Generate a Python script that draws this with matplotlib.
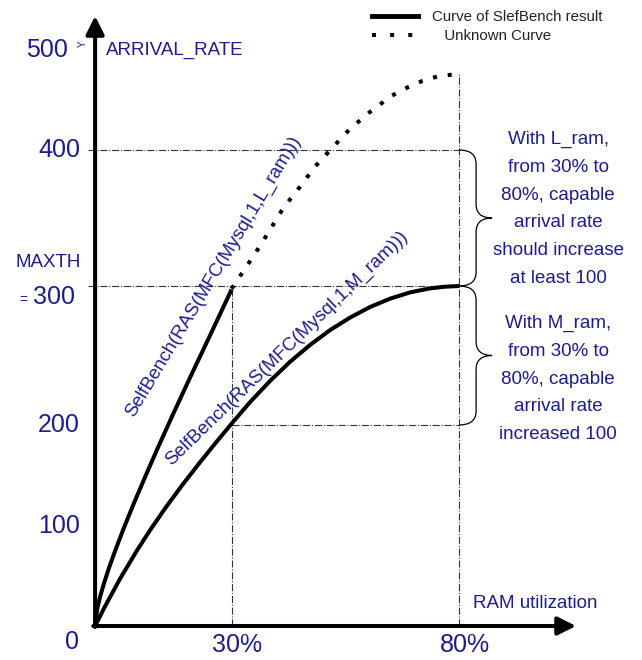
import numpy as np
import matplotlib
matplotlib.use("Agg")
import matplotlib.pyplot as plt
from matplotlib.path import Path
from matplotlib.patches import PathPatch
from matplotlib.lines import Line2D
from matplotlib.transforms import IdentityTransform

plt.rcParams['font.family'] = ['Liberation Sans', 'DejaVu Sans']

NAVY = '#1c1c8c'

# values: RAM utilization (%) vs arrival rate
l_ram_util = [0, 0.44, 1.1, 1.98, 3.08, 4.4, 6.15, 8.35, 10.99, 13.85, 17.14, 20.88, 25.27, 30]
l_ram_rate = [0, 16.6, 29.3, 43.1, 58.4, 75.1, 96.1, 120.6, 148.6, 178, 207.8, 234.2, 264.5, 297.5]
m_ram_util = [0, 2.2, 5.49, 9.23, 12.09, 15.38, 19.12, 23.08, 26.59, 30.11, 34.07, 38.46,
              42.86, 47.25, 51.65, 56.04, 60.44, 64.84, 69.23, 73.63, 76.92, 80]
m_ram_rate = [0, 19.8, 47.3, 75.7, 95.9, 117.4, 140.3, 163.2, 182.8, 201.4, 216.5, 231.7,
              245.5, 257.6, 268.3, 277.3, 284.9, 290.9, 295.4, 298.3, 299.5, 300]
unknown_util = [30, 35.2, 38.2, 41.3, 44.8, 48.4, 52.1, 56.0, 60.4, 65.1, 68.4, 71.9, 75.6, 80]
unknown_rate = [298, 324, 340, 357, 372, 388, 402, 421, 438, 454, 462, 469, 474, 476]

rate_ticks = [100, 200, 400]
util_marks = [30, 80]
util_labels = ["30%", "80%"]
maxth = 300
upper_rate = 400
lower_rate = 200
top_rate = 500

l_label = "SelfBench(RAS(MFC(Mysql,1,L_ram)))"
m_label = "SelfBench(RAS(MFC(Mysql,1,M_ram)))"
l_note = "With L_ram,\nfrom 30% to\n80%, capable\narrival rate\nshould increase\nat least 100"
m_note = "With M_ram,\nfrom 30% to\n80%, capable\narrival rate\nincreased 100"

# the y axis of the sketch is not drawn to a linear scale
SCALE_VALUES = [-100, 0, 100, 200, 300, 400, 500, 700]
SCALE_POS = [-104, 0, 100, 201, 340, 476, 576, 776]


def forward(v):
    return np.interp(v, SCALE_VALUES, SCALE_POS)


def inverse(p):
    return np.interp(p, SCALE_POS, SCALE_VALUES)


def curly_brace(ax, x, y0, y1, width=33, arm=17, r=14, **kw):
    # build the brace in pixels, anchored on data points
    xa, ya = ax.transData.transform((x, y0))
    _, yb = ax.transData.transform((x, y1))
    ya, yb = min(ya, yb), max(ya, yb)
    xm = xa + arm
    ym = (ya + yb) / 2
    verts = [(xa, ya), (xm, ya), (xm, ya + r),
             (xm, ym - r),
             (xm, ym), (xa + width, ym),
             (xm, ym), (xm, ym + r),
             (xm, yb - r),
             (xm, yb), (xa, yb)]
    codes = [Path.MOVETO, Path.CURVE3, Path.CURVE3,
             Path.LINETO,
             Path.CURVE3, Path.CURVE3,
             Path.CURVE3, Path.CURVE3,
             Path.LINETO,
             Path.CURVE3, Path.CURVE3]
    ax.add_patch(PathPatch(Path(verts, codes), fill=False, transform=IdentityTransform(), **kw))


fig = plt.figure(figsize=(6.42, 6.60), dpi=100)
ax = fig.add_axes([0, 0, 1, 1])
ax.set_yscale('function', functions=(forward, inverse))
ax.set_xlim(-20.9, 120.2)
ax.set_ylim(-32.7, 550)
ax.axis('off')

# guide lines
guide = dict(color='#333333', lw=0.8, linestyle='-.', zorder=1)
ax.plot([-1.5, 80], [upper_rate, upper_rate], **guide)
ax.plot([-1.5, 80], [maxth, maxth], **guide)
ax.plot([30, 80], [lower_rate, lower_rate], **guide)
ax.plot([30, 30], [0, maxth], **guide)
ax.plot([80, 80], [0, unknown_rate[-1]], **guide)

# axes with arrow heads
arrow = dict(arrowstyle='-|>,head_length=11,head_width=5.5', mutation_scale=1,
             lw=2.9, color='black', shrinkA=0, shrinkB=0)
ax.annotate('', xy=(0, 534), xytext=(0, -1), arrowprops=arrow)
ax.annotate('', xy=(105.7, 0), xytext=(-0.4, 0), arrowprops=arrow)

# curves
ax.plot(l_ram_util, l_ram_rate, color='black', lw=2.9, solid_capstyle='butt',
        solid_joinstyle='round', zorder=3)
ax.plot(m_ram_util, m_ram_rate, color='black', lw=2.9, solid_capstyle='butt',
        solid_joinstyle='round', zorder=3)
ax.plot(unknown_util, unknown_rate, color='black', lw=2.9, linestyle=(0, (1, 2.7)), zorder=3)

ax.text(25.9, 307, l_label, rotation=59, rotation_mode='anchor', ha='center', va='center',
        fontsize=13.5, color=NAVY)
ax.text(42.2, 255, m_label, rotation=44, rotation_mode='anchor', ha='center', va='center',
        fontsize=13.5, color=NAVY)

# axis text
ax.text(2.4, top_rate, "ARRIVAL_RATE", ha='left', va='center', fontsize=13.5, color=NAVY)
ax.text(83.1, 22.5, "RAM utilization", ha='left', va='center', fontsize=13.5, color=NAVY)
ax.text(-6.0, top_rate, str(top_rate), ha='right', va='center', fontsize=18, color=NAVY)
ax.text(-2.6, 506, "Y", rotation=90, ha='center', va='center', fontsize=7, color=NAVY)
for v in rate_ticks:
    ax.text(-3.3, v, str(v), ha='right', va='center', fontsize=18, color=NAVY)
ax.annotate(str(maxth), (-4.4, maxth), xytext=(0, -8), textcoords='offset points',
            ha='right', va='center', fontsize=18, color=NAVY)
ax.annotate("=", (-15.8, maxth), xytext=(0, -10), textcoords='offset points',
            ha='center', va='center', fontsize=10, color=NAVY)
ax.text(-10.3, 317, "MAXTH", ha='center', va='center', fontsize=13.5, color=NAVY)
ax.text(-5.05, -15.4, "0", ha='center', va='center', fontsize=18, color=NAVY)
for u, lab in zip(util_marks, util_labels):
    ax.text(u + 1.2, -18.3, lab, ha='center', va='center', fontsize=18, color=NAVY)

# braces and notes
curly_brace(ax, 80, upper_rate, maxth, color='black', lw=0.9)
curly_brace(ax, 80, maxth, lower_rate, color='black', lw=0.9)
ax.text(101.8, 356.6, l_note, ha='center', va='center', fontsize=13.5, linespacing=1.82,
        color=NAVY)
ax.text(101.8, 233, m_note, ha='center', va='center', fontsize=13.5, linespacing=1.82,
        color=NAVY)

handles = [Line2D([], [], color='black', lw=3.5),
           Line2D([], [], color='black', lw=2.9, linestyle=(0, (1, 3.5)))]
ax.legend(handles, ["Curve of SlefBench result", "   Unknown Curve"], loc='upper left',
          bbox_to_anchor=(372 / 642, 1 - 10 / 660), frameon=False, fontsize=10.8,
          handlelength=3.07, handletextpad=0.93, borderpad=0, borderaxespad=0,
          labelspacing=0.35, labelcolor='#222222')

fig.savefig("out.png", dpi=100)
